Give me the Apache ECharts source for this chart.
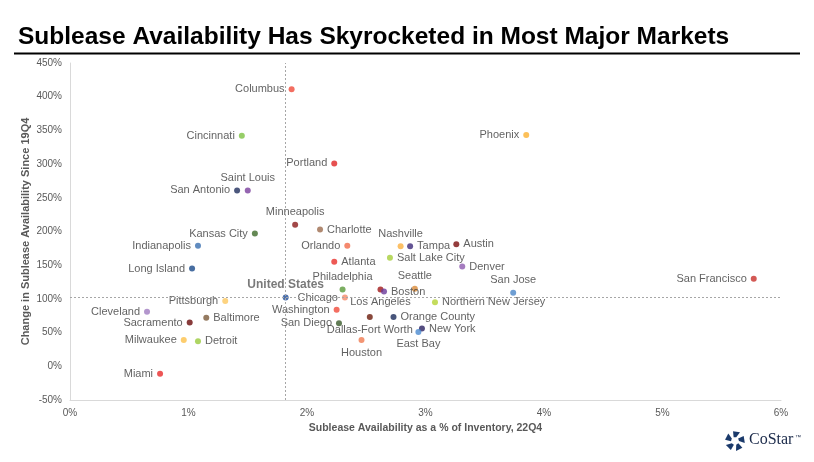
<!DOCTYPE html>
<html>
<head>
<meta charset="utf-8">
<script src="https://cdn.jsdelivr.net/npm/echarts@6/dist/echarts.min.js"></script>
<style>
html,body{margin:0;padding:0;background:#fff;}
#chart{width:814px;height:462px;}
</style>
</head>
<body>
<div id="chart"></div>
<script>
// ---- data ----
const cities = ["Columbus","Cincinnati","Portland","San Antonio","Saint Louis","Minneapolis","Charlotte","Kansas City","Indianapolis","Orlando","Atlanta","Nashville","Tampa","Austin","Salt Lake City","Denver","Philadelphia","Seattle","Los Angeles","Boston","Chicago","United States","Washington","San Diego","Dallas-Fort Worth","Orange County","New York","East Bay","Houston","Northern New Jersey","San Jose","Phoenix","San Francisco","Long Island","Pittsburgh","Cleveland","Baltimore","Sacramento","Milwaukee","Detroit","Miami"];
const xValues = [1.87,1.45,2.23,1.41,1.50,1.90,2.11,1.56,1.08,2.34,2.23,2.79,2.87,3.26,2.70,3.31,2.30,2.91,2.62,2.65,2.32,1.82,2.25,2.27,2.53,2.73,2.97,2.94,2.46,3.08,3.74,3.85,5.77,1.03,1.31,0.65,1.15,1.01,0.96,1.08,0.76];
const yValues = [411,342,301,261,261,210,203,197,179,179,155,178,178,181,161,148,114,115,114,111,102,102,84,64,73,73,56,51,39,95,109,343,130,145,97,81,72,65,39,37,-11];
const xTicks = [0,1,2,3,4,5,6];
const yTicks = [-50,0,50,100,150,200,250,300,350,400,450];

// ---- styles (kept separate from data) ----
const pointColors = ["#f04a3a","#7dc242","#e02424","#1f2d5c","#7b3f9e","#8b1a1a","#9c6b4e","#3e6b2a","#3a6fb0","#f26b4a","#e8302a","#fbb040","#3d2a7a","#7a0c0c","#a6ce39","#8e5bb0","#5a9a3a","#d98b3a","#a01818","#6a3a9a","#f58a6a","#1f4e9a","#f04a3a","#3a5a2a","#6a1a0a","#1a2a5a","#2a2060","#4a8ad0","#f07a50","#b5d334","#4a86c8","#fbb030","#c8302a","#1a4a8a","#fdc860","#a07cc0","#7a5a3a","#6a0a0a","#fdc04a","#9aca3c","#e82a2a"];
const labelPositions = ["left","left","left","left","top","top","right","left","left","left","right","top","right","right","right","right","top","top","bottom","right","left","top","left","left","bottom","right","right","bottom","bottom","right","top","left","left","left","left","left","right","left","left","right","left"];

const usIndex = cities.indexOf("United States");

const chart = echarts.init(document.getElementById('chart'), null, {renderer:'canvas'});

const data = cities.map((c,i)=>{
  const item = {
    name:c,
    value:[xValues[i], yValues[i]],
    itemStyle:{color:pointColors[i]},
    label:{position:labelPositions[i]}
  };
  if(i===usIndex){
    item.label.fontWeight='bold';
    item.label.fontSize=12;
    item.label.color='#595959';
  }
  return item;
});

// CoStar logo star pieces (decoration)
const logoPieces = [];
const cx=735, cy=441;
for(let k=0;k<5;k++){
  const a0 = (k*72-90-20)*Math.PI/180, a1=(k*72-90+30)*Math.PI/180;
  const r1=4, r2=10;
  logoPieces.push({
    type:'polygon',
    shape:{points:[[cx+r1*Math.cos(a0),cy+r1*Math.sin(a0)],[cx+r2*Math.cos(a0+0.15),cy+r2*Math.sin(a0+0.15)],[cx+r2*Math.cos(a1),cy+r2*Math.sin(a1)],[cx+r1*Math.cos(a1-0.2),cy+r1*Math.sin(a1-0.2)]]},
    style:{fill:'#1b3a6b'}
  });
}

const option = {
  backgroundColor:'#fff',
  animation:false,
  textStyle:{fontFamily:'Liberation Sans, Arial, sans-serif'},
  title:{
    text:'Sublease Availability Has Skyrocketed in Most Major Markets',
    left:13, top:20,
    textStyle:{fontFamily:'Liberation Sans, Arial, sans-serif',fontWeight:'bold',fontSize:24.5,color:'#000'}
  },
  graphic:[
    {type:'rect',shape:{x:14,y:52.5,width:786,height:2},style:{fill:'#000'}},
    {type:'group',children:logoPieces},
    {type:'text',left:749,top:432,style:{text:'CoStar',font:'16px "Liberation Serif", serif',fill:'#1b2a4a'}},
    {type:'text',left:795,top:434,style:{text:'™',font:'6px "Liberation Sans", sans-serif',fill:'#1b2a4a'}}
  ],
  grid:{left:70,right:33,top:63,bottom:62,containLabel:false},
  xAxis:{
    type:'value',min:xTicks[0],max:xTicks[xTicks.length-1],interval:1,
    name:'Sublease Availability as a % of Inventory, 22Q4',
    nameLocation:'middle',nameGap:23,
    nameTextStyle:{fontWeight:'bold',fontSize:10.5,color:'#595959'},
    axisLine:{show:true,onZero:false,lineStyle:{color:'#d9d9d9'}},
    axisTick:{show:false},
    splitLine:{show:false},
    axisLabel:{formatter:'{value}%',color:'#595959',fontSize:10,margin:8}
  },
  yAxis:{
    type:'value',min:yTicks[0],max:yTicks[yTicks.length-1],interval:50,
    name:'Change in Sublease Availability Since 19Q4',
    nameLocation:'middle',nameGap:39,nameMoveOverlap:false,
    nameTextStyle:{fontWeight:'bold',fontSize:11,color:'#595959'},
    axisLine:{show:true,onZero:false,lineStyle:{color:'#d9d9d9'}},
    axisTick:{show:false},
    splitLine:{show:false},
    axisLabel:{formatter:'{value}%',color:'#595959',fontSize:10,margin:8}
  },
  series:[{
    type:'scatter',
    symbolSize:6,
    data:data,
    label:{show:true,formatter:'{b}',color:'#3a3a3a',fontSize:11,distance:4},
    markLine:{
      silent:true,symbol:'none',
      lineStyle:{type:[2,2],color:'#a6a6a6',width:1},
      label:{show:false},
      data:[{xAxis:xValues[usIndex]},{yAxis:yValues[usIndex]}]
    },
    z:3
  }]
};
chart.setOption(option);
</script>
</body>
</html>
